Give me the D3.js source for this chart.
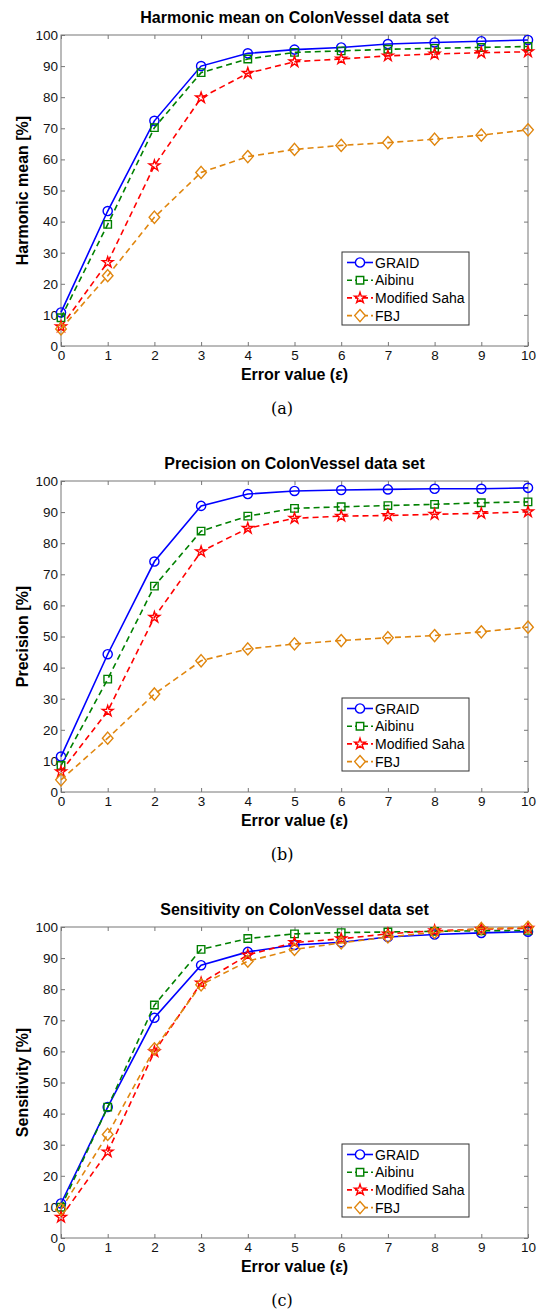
<!DOCTYPE html>
<html>
<head>
<meta charset="utf-8">
<script src="https://cdn.jsdelivr.net/npm/d3@7"></script>
<style>
  body { margin: 0; background: #fff; }
  svg { display: block; font-family: "Liberation Sans", Arial, sans-serif; }
  .tick text { font-size: 13.5px; fill: #111; }
  .tick line { stroke: #777; }
  .title, .label { font-weight: bold; font-size: 16px; fill: #000; }
  .caption { font-family: "DejaVu Serif", "Liberation Serif", serif; font-size: 16px; }
  .legend text { font-size: 14px; fill: #000; }
</style>
</head>
<body>
<svg width="539" height="1314"></svg>
<script>
// data
var errorValues = [0, 1, 2, 3, 4, 5, 6, 7, 8, 9, 10];
var seriesNames = ["GRAID", "Aibinu", "Modified Saha", "FBJ"];
var panelTitles = ["Harmonic mean on ColonVessel data set", "Precision on ColonVessel data set", "Sensitivity on ColonVessel data set"];
var panelYLabels = ["Harmonic mean [%]", "Precision [%]", "Sensitivity [%]"];
var panelCaptions = ["(a)", "(b)", "(c)"];
var yTicks = [0, 10, 20, 30, 40, 50, 60, 70, 80, 90, 100];

var harmonicGraid  = [10.8, 43.4, 72.4, 90.0, 94.1, 95.3, 96.0, 97.1, 97.6, 98.0, 98.4];
var harmonicAibinu = [9.1, 39.1, 70.2, 87.9, 92.3, 94.4, 94.9, 95.4, 95.7, 96.0, 96.3];
var harmonicSaha   = [6.2, 26.9, 58.0, 79.8, 87.7, 91.4, 92.3, 93.3, 93.9, 94.3, 94.6];
var harmonicFbj    = [5.5, 22.6, 41.4, 55.8, 60.9, 63.2, 64.5, 65.4, 66.5, 67.8, 69.5];

var precisionGraid  = [11.4, 44.3, 74.1, 92.0, 95.8, 96.8, 97.1, 97.3, 97.5, 97.5, 97.8];
var precisionAibinu = [8.5, 36.3, 66.2, 83.9, 88.7, 91.2, 91.7, 92.1, 92.5, 93.0, 93.3];
var precisionSaha   = [6.5, 26.0, 56.2, 77.3, 84.8, 88.0, 88.7, 88.9, 89.3, 89.6, 90.1];
var precisionFbj    = [3.9, 17.3, 31.5, 42.2, 46.0, 47.6, 48.7, 49.6, 50.3, 51.5, 53.0];

var sensitivityGraid  = [11.1, 42.1, 70.8, 87.7, 92.0, 94.2, 95.1, 96.8, 97.6, 98.1, 98.5];
var sensitivityAibinu = [9.9, 42.1, 74.9, 92.8, 96.3, 97.8, 98.2, 98.4, 98.6, 98.8, 98.9];
var sensitivitySaha   = [6.7, 27.7, 59.9, 82.0, 91.0, 95.0, 96.2, 97.8, 98.8, 99.3, 99.6];
var sensitivityFbj    = [9.2, 33.3, 60.8, 81.4, 89.0, 92.8, 94.9, 96.8, 98.3, 99.5, 99.9];

var panelData = [
    [harmonicGraid, harmonicAibinu, harmonicSaha, harmonicFbj],
    [precisionGraid, precisionAibinu, precisionSaha, precisionFbj],
    [sensitivityGraid, sensitivityAibinu, sensitivitySaha, sensitivityFbj]
];

// look of each series
var colors = ["#0000ff", "#008000", "#ff0000", "#e0860e"];
var dashes = [null, "6,4", "6,4", "6,4"];

var diamond = {
    draw: function(ctx, size) {
        var w = Math.sqrt(size) * 0.6, h = w * 1.15;
        ctx.moveTo(0, -h); ctx.lineTo(w, 0); ctx.lineTo(0, h); ctx.lineTo(-w, 0); ctx.closePath();
    }
};
var symbolTypes = [d3.symbolCircle, d3.symbolSquare, d3.symbolStar, diamond];
var symbolSizes = [66, 56, 36, 78];

var svg = d3.select("svg");
var left = 61, right = 528, plotH = 311;
var panelTops = [35, 481, 927];

var xScale = d3.scaleLinear().domain([0, 10]).range([left, right]);

panelTops.forEach(function(top, p) {
    var yScale = d3.scaleLinear().domain([0, 100]).range([top + plotH, top]);
    var g = svg.append("g");

    g.append("rect")
        .attr("x", left).attr("y", top)
        .attr("width", right - left).attr("height", plotH)
        .attr("fill", "#fff");

    g.append("g").attr("class", "x axis")
        .attr("transform", "translate(0," + (top + plotH) + ")")
        .call(d3.axisBottom(xScale).tickValues(errorValues).tickSizeInner(-4).tickSizeOuter(0).tickPadding(4));
    g.append("g")
        .attr("transform", "translate(0," + top + ")")
        .call(d3.axisTop(xScale).tickValues(errorValues).tickSizeInner(-4).tickSizeOuter(0).tickFormat(""));
    g.append("g").attr("class", "y axis")
        .attr("transform", "translate(" + left + ",0)")
        .call(d3.axisLeft(yScale).tickValues(yTicks).tickSizeInner(-4).tickSizeOuter(0).tickPadding(3));
    g.append("g")
        .attr("transform", "translate(" + right + ",0)")
        .call(d3.axisRight(yScale).tickValues(yTicks).tickSizeInner(-4).tickSizeOuter(0).tickFormat(""));
    g.selectAll(".domain").remove();

    g.append("rect")
        .attr("x", left).attr("y", top)
        .attr("width", right - left).attr("height", plotH)
        .attr("fill", "none").attr("stroke", "#777").attr("stroke-width", 1);

    var line = d3.line()
        .x(function(d, i) { return xScale(errorValues[i]); })
        .y(function(d) { return yScale(d); });

    panelData[p].forEach(function(values, s) {
        g.append("path")
            .datum(values)
            .attr("d", line)
            .attr("fill", "none")
            .attr("stroke", colors[s])
            .attr("stroke-width", 1.6)
            .attr("stroke-dasharray", dashes[s]);
        g.selectAll(".m" + s)
            .data(values)
            .enter()
            .append("path")
            .attr("class", "m" + s)
            .attr("d", d3.symbol().type(symbolTypes[s]).size(symbolSizes[s]))
            .attr("transform", function(d, i) { return "translate(" + xScale(errorValues[i]) + "," + yScale(d) + ")"; })
            .attr("fill", "none")
            .attr("stroke", colors[s])
            .attr("stroke-width", 1.4);
    });

    // legend
    var lg = g.append("g").attr("class", "legend")
        .attr("transform", "translate(342," + (top + 217) + ")");
    lg.append("rect")
        .attr("width", 127).attr("height", 73)
        .attr("fill", "#fff").attr("stroke", "#333").attr("stroke-width", 1);
    seriesNames.forEach(function(name, s) {
        var yy = 10.5 + s * 17.7;
        lg.append("line")
            .attr("x1", 5).attr("x2", 31).attr("y1", yy).attr("y2", yy)
            .attr("stroke", colors[s]).attr("stroke-width", 1.6)
            .attr("stroke-dasharray", dashes[s] ? "5,3" : null);
        lg.append("path")
            .attr("d", d3.symbol().type(symbolTypes[s]).size(symbolSizes[s]))
            .attr("transform", "translate(18," + yy + ")")
            .attr("fill", "#fff").attr("stroke", colors[s]).attr("stroke-width", 1.4);
        lg.append("text")
            .attr("x", 33).attr("y", yy + 5)
            .text(name);
    });

    svg.append("text")
        .attr("class", "title")
        .attr("text-anchor", "middle")
        .attr("transform", "translate(" + ((left + right) / 2) + "," + (top - 12) + ")")
        .text(panelTitles[p]);

    svg.append("text")
        .attr("class", "label")
        .attr("text-anchor", "middle")
        .attr("transform", "translate(" + ((left + right) / 2) + "," + (top + plotH + 34) + ")")
        .text("Error value (ε)");

    svg.append("text")
        .attr("class", "label")
        .attr("text-anchor", "middle")
        .attr("transform", "translate(28," + (top + plotH / 2) + ") rotate(-90)")
        .text(panelYLabels[p]);

    svg.append("text")
        .attr("class", "caption")
        .attr("text-anchor", "middle")
        .attr("transform", "translate(282," + (top + plotH + 68) + ")")
        .text(panelCaptions[p]);
});
</script>
</body>
</html>
